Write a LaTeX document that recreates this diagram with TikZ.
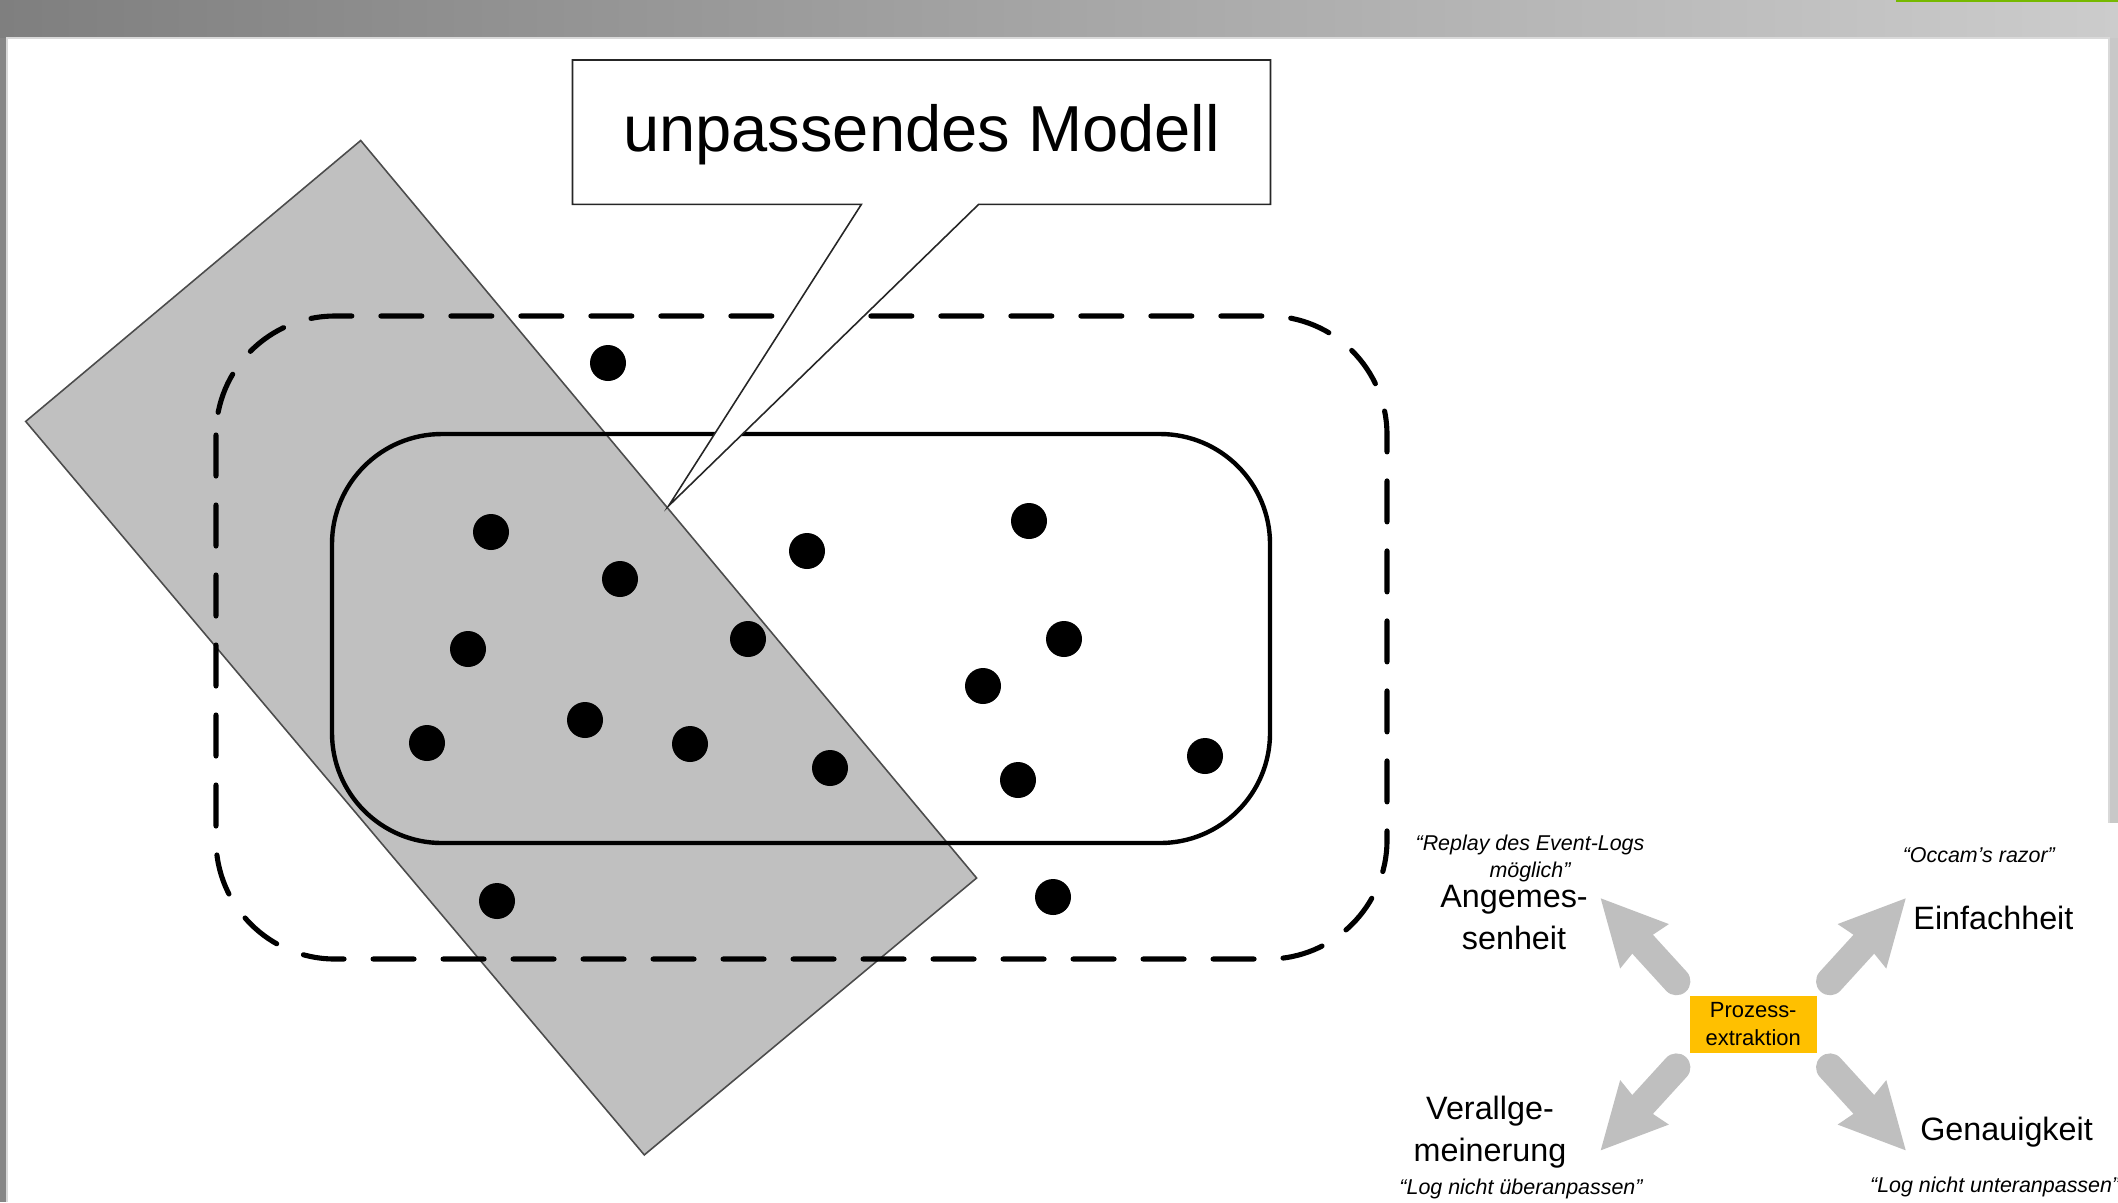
\documentclass[tikz,border=0pt]{standalone}
\usepackage{fontspec}
\setmainfont{Liberation Sans}
\usetikzlibrary{arrows.meta}

\definecolor{barleft}{HTML}{7F7F7F}
\definecolor{barright}{HTML}{CCCCCC}
\definecolor{stripgray}{HTML}{868686}
\definecolor{rightstrip}{HTML}{C8C8C8}
\definecolor{topgreen}{HTML}{76B900}
\definecolor{modelgray}{HTML}{C0C0C0}
\definecolor{arrowgray}{HTML}{BFBFBF}
\definecolor{boxorange}{HTML}{FFC000}

\begin{document}
\begin{tikzpicture}[
    x=0.1mm, y=-0.1mm,
    bigarrow/.style={draw=arrowgray, line width=2.8mm, line cap=round,
                     -{Stealth[length=6.5mm, width=6.6mm, inset=0.5mm, line width=0pt]}},
    criterion/.style={align=center, inner sep=0pt,
                      font=\fontsize{9.2}{12}\selectfont},
    remark/.style={align=center, inner sep=0pt,
                   font=\fontsize{6.1}{7.7}\selectfont\itshape},
    speech/.style={fill=white, draw=black!85, line width=0.45pt},
  ]

  \useasboundingbox (0,0) rectangle (2118,1202);

  % === Slide frame ===
  \shade[left color=barleft, right color=barright] (0,0) rectangle (2118,38);
  \fill[topgreen] (1896,0) rectangle (2118,2);
  \fill[stripgray] (0,38) rectangle (7,1202);
  \fill[rightstrip] (2109,38) rectangle (2118,823);
  \draw[black!15, line width=0.4pt] (7,1202) -- (7,38) -- (2109,38) -- (2109,823);

  % === Model (tilted gray band) ===
  \filldraw[fill=modelgray, draw=black!70, line width=0.45pt]
    (360.7,140.5) -- (976.6,878) -- (644.3,1154.9) -- (25.7,421.4) -- cycle;

  % === Possible behaviour (dashed) and event log (solid) ===
  \draw[line width=1.45pt, line cap=round, dash pattern=on 4.1mm off 2.9mm,
        rounded corners=11.9mm] (216,316) rectangle (1387,959);
  \draw[line width=1.25pt, rounded corners=11mm] (332,434) rectangle (1270,843);

  % traces
  \foreach \p in {(608,363), (491,532), (620,579), (807,551), (1029,521),
                  (468,649), (748,639), (1064,639), (983,686), (427,743),
                  (585,720), (690,744), (830,768), (1018,780), (1205,756),
                  (497,901), (1053,897)}
    \fill \p circle[radius=1.8mm];

  % === Callout ===
  \coordinate (tip) at (668.5,506);
  \filldraw[speech] (572.5,60) -- (1270.5,60) -- (1270.5,204.3) -- (978.7,204.3)
    -- (tip) -- (861.4,204.3) -- (572.5,204.3) -- cycle;
  \node[font=\fontsize{18.5}{22}\selectfont] (msg) at (921.5,135) {unpassendes Modell};

  % === Quality dimensions ===
  \node[fill=boxorange, minimum width=12.7mm, minimum height=5.67mm, inner sep=0pt,
        align=center, font=\fontsize{6.25}{8}\selectfont]
    (extr) at (1753.2,1024.3) {Prozess-\\extraktion};

  \node[criterion] (angem) at (1514,917.4) {Angemes-\\senheit};
  \node[criterion, anchor=base] (einf) at (1993.4,929.3) {Einfachheit};
  \node[criterion] (verall) at (1490,1131.7) {Verallge-\\meinerung};
  \node[criterion, anchor=base] (genau) at (2006.5,1140) {Genauigkeit};

  \node[remark] (replay) at (1530,858) {“Replay des Event-Logs\\möglich”};
  \node[remark, anchor=base] (occam) at (1978.8,862.7) {“Occam’s razor”};
  \node[remark, anchor=base] (ueber) at (1521,1194) {“Log nicht überanpassen”};
  \node[remark, anchor=base west] (unter) at (1869.4,1192) {“Log nicht unteranpassen”};

  \coordinate (tipNW) at (1600.7,898.3);
  \coordinate (tipNE) at (1905.7,898.3);
  \coordinate (tipSW) at (1600.7,1150.3);
  \coordinate (tipSE) at (1905.7,1150.3);

  \draw[bigarrow] ([shift={(-12.6,-14)}]extr.north west) -- (tipNW);
  \draw[bigarrow] ([shift={(12.6,-14)}]extr.north east) -- (tipNE);
  \draw[bigarrow] ([shift={(-12.6,14)}]extr.south west) -- (tipSW);
  \draw[bigarrow] ([shift={(12.6,14)}]extr.south east) -- (tipSE);

\end{tikzpicture}
\end{document}
